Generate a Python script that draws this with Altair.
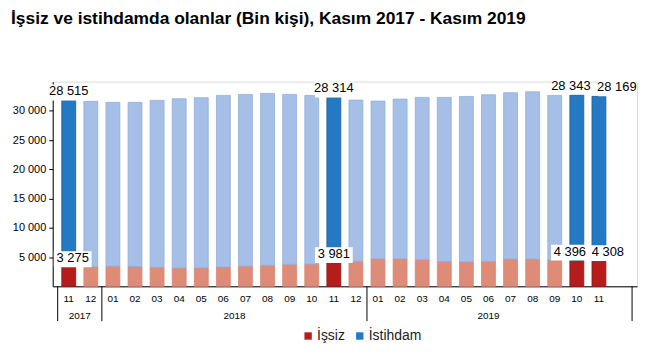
import altair as alt
import pandas as pd

FONT = "Liberation Sans"

months = ["2017-11", "2017-12",
          "2018-01", "2018-02", "2018-03", "2018-04", "2018-05", "2018-06",
          "2018-07", "2018-08", "2018-09", "2018-10", "2018-11", "2018-12",
          "2019-01", "2019-02", "2019-03", "2019-04", "2019-05", "2019-06",
          "2019-07", "2019-08", "2019-09", "2019-10", "2019-11"]
unemployed = [3275, 3330,
              3450, 3400, 3270, 3120, 3150, 3300,
              3450, 3600, 3750, 3800, 3981, 4300,
              4700, 4700, 4550, 4250, 4200, 4250,
              4650, 4650, 4500, 4396, 4308]
employed = [28515, 28290,
            28000, 28050, 28520, 28950, 29090, 29340,
            29360, 29380, 29060, 28840, 28314, 27540,
            26970, 27310, 27750, 28050, 28260, 28500,
            28440, 28610, 28130, 28343, 28169]
highlight = ["2017-11", "2018-11", "2019-10", "2019-11"]
series_names = ["İşsiz", "İstihdam"]

title_text = "İşsiz ve istihdamda olanlar (Bin kişi), Kasım 2017 - Kasım 2019"

# ---- build tables ----
rows = []
for i, (m, u, e) in enumerate(zip(months, unemployed, employed)):
    hl = m in highlight
    rows.append(dict(idx=i, month=m, series="İşsiz",
                     kind="İşsiz" if hl else "İşsiz ",
                     y0=0, y1=u, value=u))
    rows.append(dict(idx=i, month=m, series="İstihdam",
                     kind="İstihdam" if hl else "İstihdam ",
                     y0=u, y1=u + e, value=e))
df = pd.DataFrame(rows)
df["label"] = df["value"].map(lambda v: f"{v:,}".replace(",", " "))

month_df = pd.DataFrame({"idx": list(range(len(months))),
                         "mon": [m[5:] for m in months]})

years = sorted(set(m[:4] for m in months))
year_rows = []
for y in years:
    idxs = [i for i, m in enumerate(months) if m[:4] == y]
    year_rows.append(dict(year=y, center=sum(idxs) / len(idxs)))
year_df = pd.DataFrame(year_rows)

sep = [-0.5]
for i in range(1, len(months)):
    if months[i][:4] != months[i - 1][:4]:
        sep.append(i - 0.5)
sep.append(len(months) + 0.5)
sep_df = pd.DataFrame({"x": sep})

W, H = 588, 206
xscale = alt.Scale(domain=[-0.5, len(months) + 0.5], nice=False, zero=False)
yscale = alt.Scale(domain=[0, 35000], nice=False)

x_enc = alt.X("idx:Q", scale=xscale,
              axis=alt.Axis(labels=False, ticks=False, grid=False, title=None,
                            domainColor="black", domainWidth=1))
y_enc = alt.Y("y0:Q", scale=yscale,
              axis=alt.Axis(values=[5000, 10000, 15000, 20000, 25000, 30000],
                            labelExpr="replace(format(datum.value, ','), ',', ' ')",
                            labelOverlap=False,
                            tickSize=4, tickColor="black", domainColor="black",
                            grid=False, title=None, labelFontSize=11,
                            labelColor="black", labelFont=FONT, labelPadding=3))

kinds = ["İşsiz", "İstihdam", "İşsiz ", "İstihdam "]
fills = ["#B71C1C", "#2479C4", "#DE8B77", "#A5BFE6"]
strokes = ["#8E1515", "#1B5C96", "#D98570", "#93AEDB"]

bars = alt.Chart(df).mark_bar(width=14, strokeWidth=0.8).encode(
    x=x_enc,
    y=y_enc,
    y2="y1:Q",
    color=alt.Color("kind:N",
                    scale=alt.Scale(domain=kinds, range=fills),
                    legend=alt.Legend(values=series_names, orient="none",
                                      direction="horizontal",
                                      legendX=250, legendY=249,
                                      title=None, labelFontSize=14,
                                      labelFont=FONT, labelColor="#222",
                                      symbolType="square", symbolSize=55,
                                      symbolStrokeWidth=0, columnPadding=8,
                                      labelOffset=2)),
    stroke=alt.Stroke("kind:N", scale=alt.Scale(domain=kinds, range=strokes),
                      legend=None),
)

# label offsets (pixels) for crowded labels
label_dx = {("2019-10", "İstihdam"): -6, ("2019-11", "İstihdam"): 18,
            ("2019-10", "İşsiz"): -7, ("2019-11", "İşsiz"): 9,
            ("2017-11", "İşsiz"): 4}

label_layers = []
for m in highlight:
    for s in series_names:
        dx = label_dx.get((m, s), 0)
        sub = df[(df["month"] == m) & (df["series"] == s)]
        base = alt.Chart(sub)
        box = base.mark_bar(width=38, color="white", xOffset=dx).transform_calculate(
            top="datum.y1 + 2700"
        ).encode(x=alt.X("idx:Q", scale=xscale), y=alt.Y("y1:Q", scale=yscale), y2="top:Q")
        txt = base.mark_text(dx=dx, dy=-2, baseline="bottom", fontSize=13,
                             font=FONT, color="black").encode(
            x=alt.X("idx:Q", scale=xscale), y=alt.Y("y1:Q", scale=yscale),
            text="label:N")
        label_layers += [box, txt]

month_text = alt.Chart(month_df).mark_text(fontSize=10, font=FONT, color="black",
                                           baseline="middle").encode(
    x=alt.X("idx:Q", scale=xscale), y=alt.value(H + 13), text="mon:N")

seps = alt.Chart(sep_df).mark_rule(color="black", strokeWidth=1).encode(
    x=alt.X("x:Q", scale=xscale), y=alt.value(H), y2=alt.value(H + 35))

year_text = alt.Chart(year_df).mark_text(fontSize=10, font=FONT, color="black",
                                         baseline="middle").encode(
    x=alt.X("center:Q", scale=xscale), y=alt.value(H + 30), text="year:N")

chart = alt.layer(bars, *label_layers, month_text, seps, year_text).properties(
    width=W, height=H,
    padding={"left": 45, "top": 73, "right": 5, "bottom": 60},
    autosize=alt.AutoSizeParams(type="none"),
    title=alt.TitleParams(title_text, anchor="start", fontSize=17.5, font=FONT,
                          fontWeight="bold", color="black", dx=-42, offset=52,
                          frame="group"),
).configure_view(stroke=None).configure(background="white")

chart.save("out.html", embed_options={"renderer": "svg", "actions": False})
